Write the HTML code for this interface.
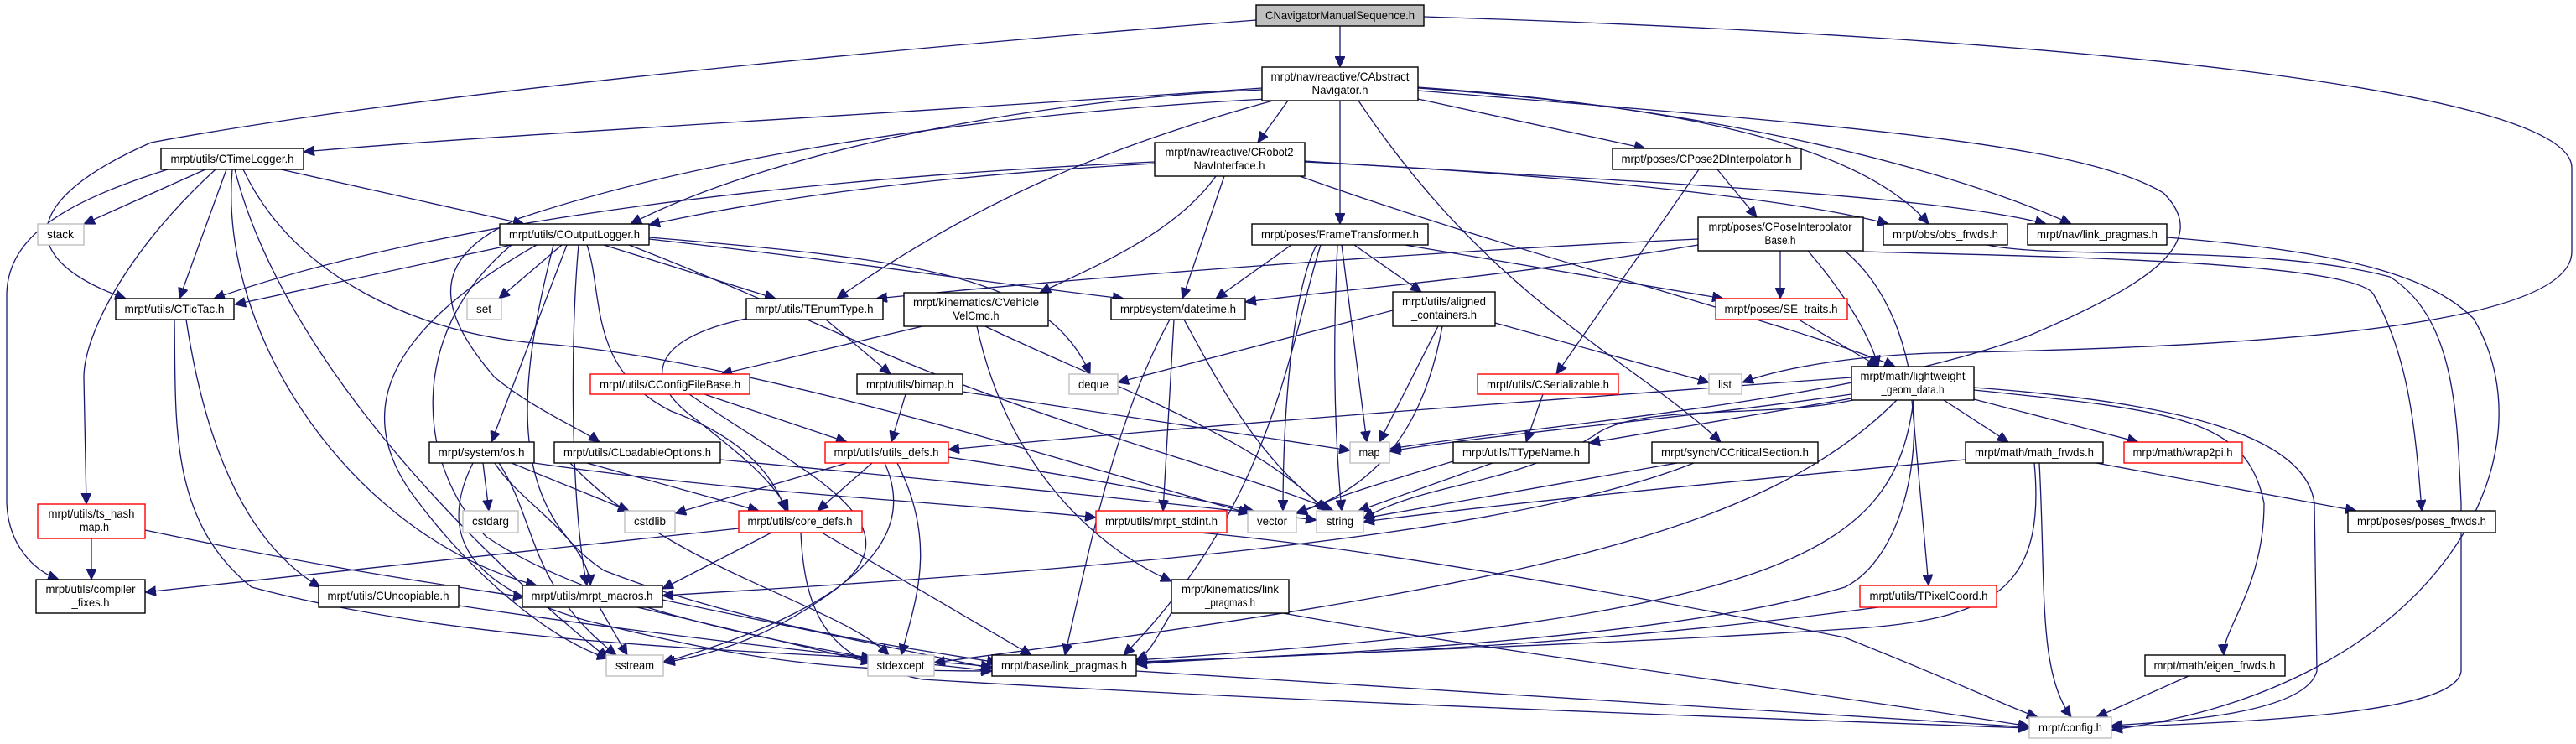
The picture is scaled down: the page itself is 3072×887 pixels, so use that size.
<!DOCTYPE html>
<html><head><meta charset="utf-8"><style>
html,body{margin:0;padding:0;background:#fff;}
svg{display:block;}
text{font-family:"Liberation Sans",sans-serif;font-size:14px;fill:#000;}
.e{fill:none;stroke:#191970;stroke-width:1.3;marker-end:url(#a);}
.b{fill:#fff;stroke:#000;stroke-width:1.4;}
.g{fill:#fff;stroke:#bfbfbf;stroke-width:1.4;}
.r{fill:#fff;stroke:#ff0000;stroke-width:1.4;}
</style></head><body>
<svg width="3072" height="887" viewBox="0 0 3072 887" xmlns="http://www.w3.org/2000/svg">
<defs><marker id="a" markerUnits="userSpaceOnUse" markerWidth="14" markerHeight="12" refX="13" refY="6" orient="auto"><path d="M0,0 L13,6 L0,12 Z" fill="#191970" stroke="#191970"/></marker></defs>
<g>
<path class="e" d="M1598,31 L1598,80"/>
<path class="e" d="M1498,24 C1100,55 500,110 180,170 C20,240 20,310 150,356"/>
<path class="e" d="M1698,20 C2500,45 3067,110 3067,200 L3067,300 C3067,400 2600,415 2304,421 C2200,425 2120,440 2078,456"/>
<path class="e" d="M1505,105 C1000,140 600,160 362,181"/>
<path class="e" d="M1505,107 C1200,120 900,190 752,267"/>
<path class="e" d="M1536,120 L1500,170"/>
<path class="e" d="M1598,120 L1598,267"/>
<path class="e" d="M1518,120 C1300,180 1150,250 998,356"/>
<path class="e" d="M1510,118 C1100,140 800,200 620,260 C500,310 530,380 590,450 C640,490 690,510 715,527"/>
<path class="e" d="M1620,120 C1780,360 1950,430 2052,527"/>
<path class="e" d="M1691,118 L1962,177"/>
<path class="e" d="M1691,105 C1900,120 2200,150 2300,267"/>
<path class="e" d="M1691,104 C2000,125 2300,190 2470,267"/>
<path class="e" d="M1691,108 C2200,150 2480,170 2580,230 C2640,290 2560,340 2420,400 C2200,480 1850,505 1658,535"/>
<path class="e" d="M245,202 L100,267"/>
<path class="e" d="M270,202 L214,356"/>
<path class="e" d="M335,202 L625,267"/>
<path class="e" d="M200,202 C80,240 10,280 8,350 L8,600 C10,650 40,680 70,691"/>
<path class="e" d="M257,202 C150,300 100,400 100,450 L103,601"/>
<path class="e" d="M280,202 C330,400 520,620 725,785"/>
<path class="e" d="M290,202 C350,330 500,400 650,410 C900,430 1300,560 1490,612"/>
<path class="e" d="M277,202 C260,400 420,640 640,698"/>
<path class="e" d="M1377,195 C1100,210 900,240 774,268"/>
<path class="e" d="M1377,193 C900,215 500,270 255,356"/>
<path class="e" d="M1460,210 L1410,356"/>
<path class="e" d="M1450,210 C1400,280 1300,320 1240,349"/>
<path class="e" d="M1556,193 C1900,210 2150,240 2252,267"/>
<path class="e" d="M1556,192 C1900,215 2300,230 2440,267"/>
<path class="e" d="M1550,210 C1800,300 2150,390 2260,437"/>
<path class="e" d="M2048,202 L2095,259"/>
<path class="e" d="M2026,202 L1856,446"/>
<path class="e" d="M610,292 L280,363"/>
<path class="e" d="M670,292 L595,356"/>
<path class="e" d="M720,292 L925,356"/>
<path class="e" d="M774,285 C1000,310 1200,340 1340,356"/>
<path class="e" d="M676,292 L586,527"/>
<path class="e" d="M774,283 C1100,310 1250,330 1300,446"/>
<path class="e" d="M700,292 C720,350 700,440 800,490 C880,520 920,560 937,609"/>
<path class="e" d="M690,292 C680,400 680,600 700,698"/>
<path class="e" d="M640,292 C450,400 420,500 500,600 C560,680 650,760 725,785"/>
<path class="e" d="M610,292 C480,400 500,560 580,640 C700,720 900,760 1040,785"/>
<path class="e" d="M660,292 C620,450 600,600 720,680 C900,750 1100,775 1190,790"/>
<path class="e" d="M750,292 C900,350 1000,400 1100,440 C1300,520 1500,570 1590,609"/>
<path class="e" d="M1540,292 L1450,356"/>
<path class="e" d="M1615,292 L1695,348"/>
<path class="e" d="M1600,292 L1630,527"/>
<path class="e" d="M1595,292 C1590,400 1590,500 1600,609"/>
<path class="e" d="M1675,292 L2055,356"/>
<path class="e" d="M1575,292 C1540,400 1520,600 1340,781"/>
<path class="e" d="M1570,292 C1540,350 1530,500 1530,609"/>
<path class="e" d="M2025,285 C1700,300 1300,330 1045,356"/>
<path class="e" d="M2025,292 C1800,330 1600,345 1485,360"/>
<path class="e" d="M2123,299 L2123,356"/>
<path class="e" d="M2156,299 C2200,350 2230,400 2240,437"/>
<path class="e" d="M2222,300 C2400,305 2800,310 2830,350 C2870,420 2880,500 2888,609"/>
<path class="e" d="M2200,299 C2320,400 2300,650 2200,700 C2000,760 1600,780 1355,790"/>
<path class="e" d="M2370,292 C2450,310 2700,290 2850,330 C2930,380 2930,500 2935,600 L2935,800 C2930,850 2700,860 2518,867"/>
<path class="e" d="M2584,283 C2800,300 2900,330 2950,380 C3050,550 2900,820 2518,870"/>
<path class="e" d="M222,381 C240,500 280,640 382,700"/>
<path class="e" d="M208,381 C210,500 200,620 300,700 C600,780 1000,775 1183,795"/>
<path class="e" d="M985,381 L1062,446"/>
<path class="e" d="M900,378 C780,400 760,450 830,500 C880,540 920,570 940,609"/>
<path class="e" d="M1100,389 L860,446"/>
<path class="e" d="M1175,389 C1300,450 1500,520 1580,609"/>
<path class="e" d="M1165,389 C1200,550 1300,650 1397,693"/>
<path class="e" d="M1400,381 L1387,609"/>
<path class="e" d="M1395,381 C1330,500 1300,650 1270,781"/>
<path class="e" d="M1412,381 C1450,450 1500,550 1585,609"/>
<path class="e" d="M1661,370 L1333,456"/>
<path class="e" d="M1783,385 L2038,456"/>
<path class="e" d="M1715,389 L1645,527"/>
<path class="e" d="M1720,389 C1700,500 1650,580 1545,612"/>
<path class="e" d="M2145,381 L2240,437"/>
<path class="e" d="M840,470 L1010,527"/>
<path class="e" d="M822,470 C950,560 1100,620 1000,700 C920,760 850,780 792,790"/>
<path class="e" d="M1080,470 L1063,527"/>
<path class="e" d="M1148,467 L1610,537"/>
<path class="e" d="M1840,470 L1820,527"/>
<path class="e" d="M2208,450 C1800,480 1400,510 1131,536"/>
<path class="e" d="M2208,470 C2000,500 1800,515 1657,538"/>
<path class="e" d="M2208,475 L1895,528"/>
<path class="e" d="M2354,476 L2550,527"/>
<path class="e" d="M2318,477 L2395,527"/>
<path class="e" d="M2280,477 L2300,698"/>
<path class="e" d="M2354,465 C2600,490 2680,500 2700,600 C2700,700 2650,750 2652,781"/>
<path class="e" d="M2354,462 C2600,480 2750,520 2760,600 L2763,800 C2750,850 2600,860 2518,865"/>
<path class="e" d="M2210,477 C2100,500 1950,480 1900,520 C1800,580 1700,575 1626,618"/>
<path class="e" d="M2262,477 C2100,640 1800,700 1114,790"/>
<path class="e" d="M2282,477 C2260,650 2150,735 1355,787"/>
<path class="e" d="M576,552 L583,609"/>
<path class="e" d="M610,552 L750,609"/>
<path class="e" d="M590,552 C620,600 700,640 704,698"/>
<path class="e" d="M564,552 C520,640 560,700 700,740 C900,790 1000,800 1183,800"/>
<path class="e" d="M637,552 C900,590 1150,600 1307,617"/>
<path class="e" d="M595,552 C640,620 630,700 735,781"/>
<path class="e" d="M700,552 L905,609"/>
<path class="e" d="M680,552 C800,680 1000,720 1060,781"/>
<path class="e" d="M859,548 C1200,580 1400,600 1570,620"/>
<path class="e" d="M1040,552 L975,609"/>
<path class="e" d="M1010,552 L805,612"/>
<path class="e" d="M1131,545 C1300,570 1400,590 1495,609"/>
<path class="e" d="M1070,552 C1120,650 1090,720 1075,781"/>
<path class="e" d="M1055,552 C1100,650 1000,730 790,790"/>
<path class="e" d="M1780,552 L1620,609"/>
<path class="e" d="M1733,550 C1650,575 1600,590 1546,612"/>
<path class="e" d="M2000,552 L1626,618"/>
<path class="e" d="M2020,552 C1800,640 1300,680 790,710"/>
<path class="e" d="M2344,548 C2000,580 1800,600 1626,622"/>
<path class="e" d="M2500,552 L2810,609"/>
<path class="e" d="M2432,552 C2440,700 2430,800 2470,855"/>
<path class="e" d="M2426,552 C2440,700 2380,740 2200,750 C1900,770 1500,780 1355,792"/>
<path class="e" d="M109,642 L109,691"/>
<path class="e" d="M173,632 C400,680 550,700 625,712"/>
<path class="e" d="M881,630 L173,706"/>
<path class="e" d="M920,635 L790,702"/>
<path class="e" d="M980,635 L1230,781"/>
<path class="e" d="M955,635 C960,750 1000,790 1100,810 C1600,840 2200,860 2420,868"/>
<path class="e" d="M1430,635 C1600,650 1900,700 2200,760 C2350,820 2400,845 2430,855"/>
<path class="e" d="M547,722 C800,760 1000,780 1183,800"/>
<path class="e" d="M715,724 L748,781"/>
<path class="e" d="M760,724 L1040,790"/>
<path class="e" d="M790,715 L1183,797"/>
<path class="e" d="M1530,731 C1800,780 2200,830 2420,866"/>
<path class="e" d="M1400,725 C1380,760 1370,780 1355,787"/>
<path class="e" d="M2240,724 C1900,770 1600,780 1355,789"/>
<path class="e" d="M1355,800 C1800,830 2200,850 2420,867"/>
<path class="e" d="M2610,806 L2500,855"/>
</g>
<g>
<rect x="1498" y="6" width="200" height="25" fill="#bfbfbf" stroke="#000" stroke-width="1.4"/>
<text x="1598" y="23" text-anchor="middle" textLength="178" lengthAdjust="spacingAndGlyphs">CNavigatorManualSequence.h</text>

<rect class="b" x="1505" y="80" width="186" height="40"/>
<text x="1598" y="96" text-anchor="middle" textLength="165" lengthAdjust="spacingAndGlyphs">mrpt/nav/reactive/CAbstract</text>
<text x="1598" y="112" text-anchor="middle" textLength="67" lengthAdjust="spacingAndGlyphs">Navigator.h</text>

<rect class="b" x="192" y="177" width="170" height="25"/>
<text x="277" y="194" text-anchor="middle" textLength="147" lengthAdjust="spacingAndGlyphs">mrpt/utils/CTimeLogger.h</text>

<rect class="b" x="1377" y="170" width="179" height="40"/>
<text x="1466" y="186" text-anchor="middle" textLength="153" lengthAdjust="spacingAndGlyphs">mrpt/nav/reactive/CRobot2</text>
<text x="1466" y="202" text-anchor="middle" textLength="85" lengthAdjust="spacingAndGlyphs">NavInterface.h</text>

<rect class="b" x="1923" y="177" width="225" height="25"/>
<text x="2035" y="194" text-anchor="middle" textLength="203" lengthAdjust="spacingAndGlyphs">mrpt/poses/CPose2DInterpolator.h</text>

<rect class="b" x="596" y="267" width="178" height="25"/>
<text x="685" y="284" text-anchor="middle" textLength="156" lengthAdjust="spacingAndGlyphs">mrpt/utils/COutputLogger.h</text>

<rect class="g" x="45" y="267" width="55" height="25"/>
<text x="72" y="284" text-anchor="middle" textLength="32" lengthAdjust="spacingAndGlyphs">stack</text>

<rect class="b" x="1493" y="267" width="210" height="25"/>
<text x="1598" y="284" text-anchor="middle" textLength="188" lengthAdjust="spacingAndGlyphs">mrpt/poses/FrameTransformer.h</text>

<rect class="b" x="2025" y="259" width="197" height="40"/>
<text x="2123" y="275" text-anchor="middle" textLength="171" lengthAdjust="spacingAndGlyphs">mrpt/poses/CPoseInterpolator</text>
<text x="2123" y="291" text-anchor="middle" textLength="37" lengthAdjust="spacingAndGlyphs">Base.h</text>

<rect class="b" x="2246" y="267" width="148" height="25"/>
<text x="2320" y="284" text-anchor="middle" textLength="126" lengthAdjust="spacingAndGlyphs">mrpt/obs/obs_frwds.h</text>

<rect class="b" x="2418" y="267" width="166" height="25"/>
<text x="2501" y="284" text-anchor="middle" textLength="144" lengthAdjust="spacingAndGlyphs">mrpt/nav/link_pragmas.h</text>

<rect class="b" x="138" y="356" width="141" height="25"/>
<text x="208" y="373" text-anchor="middle" textLength="119" lengthAdjust="spacingAndGlyphs">mrpt/utils/CTicTac.h</text>

<rect class="g" x="557" y="356" width="41" height="25"/>
<text x="577" y="373" text-anchor="middle" textLength="18" lengthAdjust="spacingAndGlyphs">set</text>

<rect class="b" x="890" y="356" width="163" height="25"/>
<text x="971" y="373" text-anchor="middle" textLength="141" lengthAdjust="spacingAndGlyphs">mrpt/utils/TEnumType.h</text>

<rect class="b" x="1078" y="349" width="172" height="40"/>
<text x="1164" y="365" text-anchor="middle" textLength="150" lengthAdjust="spacingAndGlyphs">mrpt/kinematics/CVehicle</text>
<text x="1164" y="381" text-anchor="middle" textLength="55" lengthAdjust="spacingAndGlyphs">VelCmd.h</text>

<rect class="b" x="1325" y="356" width="160" height="25"/>
<text x="1405" y="373" text-anchor="middle" textLength="138" lengthAdjust="spacingAndGlyphs">mrpt/system/datetime.h</text>

<rect class="b" x="1661" y="348" width="122" height="41"/>
<text x="1722" y="364" text-anchor="middle" textLength="100" lengthAdjust="spacingAndGlyphs">mrpt/utils/aligned</text>
<text x="1722" y="380" text-anchor="middle" textLength="78" lengthAdjust="spacingAndGlyphs">_containers.h</text>

<rect class="r" x="2046" y="356" width="157" height="25"/>
<text x="2124" y="373" text-anchor="middle" textLength="135" lengthAdjust="spacingAndGlyphs">mrpt/poses/SE_traits.h</text>

<rect class="r" x="704" y="446" width="190" height="24"/>
<text x="799" y="463" text-anchor="middle" textLength="168" lengthAdjust="spacingAndGlyphs">mrpt/utils/CConfigFileBase.h</text>

<rect class="b" x="1022" y="446" width="126" height="24"/>
<text x="1085" y="463" text-anchor="middle" textLength="104" lengthAdjust="spacingAndGlyphs">mrpt/utils/bimap.h</text>

<rect class="g" x="1275" y="446" width="58" height="24"/>
<text x="1304" y="463" text-anchor="middle" textLength="36" lengthAdjust="spacingAndGlyphs">deque</text>

<rect class="r" x="1762" y="446" width="168" height="24"/>
<text x="1846" y="463" text-anchor="middle" textLength="146" lengthAdjust="spacingAndGlyphs">mrpt/utils/CSerializable.h</text>

<rect class="g" x="2038" y="446" width="39" height="24"/>
<text x="2057" y="463" text-anchor="middle" textLength="16" lengthAdjust="spacingAndGlyphs">list</text>

<rect class="b" x="2208" y="437" width="146" height="40"/>
<text x="2281" y="453" text-anchor="middle" textLength="125" lengthAdjust="spacingAndGlyphs">mrpt/math/lightweight</text>
<text x="2281" y="469" text-anchor="middle" textLength="75" lengthAdjust="spacingAndGlyphs">_geom_data.h</text>

<rect class="b" x="512" y="527" width="125" height="25"/>
<text x="574" y="544" text-anchor="middle" textLength="103" lengthAdjust="spacingAndGlyphs">mrpt/system/os.h</text>

<rect class="b" x="661" y="527" width="198" height="25"/>
<text x="760" y="544" text-anchor="middle" textLength="176" lengthAdjust="spacingAndGlyphs">mrpt/utils/CLoadableOptions.h</text>

<rect class="r" x="984" y="527" width="147" height="25"/>
<text x="1057" y="544" text-anchor="middle" textLength="125" lengthAdjust="spacingAndGlyphs">mrpt/utils/utils_defs.h</text>

<rect class="g" x="1610" y="527" width="47" height="25"/>
<text x="1633" y="544" text-anchor="middle" textLength="25" lengthAdjust="spacingAndGlyphs">map</text>

<rect class="b" x="1733" y="527" width="162" height="25"/>
<text x="1814" y="544" text-anchor="middle" textLength="140" lengthAdjust="spacingAndGlyphs">mrpt/utils/TTypeName.h</text>

<rect class="b" x="1970" y="527" width="198" height="25"/>
<text x="2069" y="544" text-anchor="middle" textLength="176" lengthAdjust="spacingAndGlyphs">mrpt/synch/CCriticalSection.h</text>

<rect class="b" x="2344" y="527" width="164" height="25"/>
<text x="2426" y="544" text-anchor="middle" textLength="142" lengthAdjust="spacingAndGlyphs">mrpt/math/math_frwds.h</text>

<rect class="r" x="2533" y="527" width="141" height="25"/>
<text x="2603" y="544" text-anchor="middle" textLength="119" lengthAdjust="spacingAndGlyphs">mrpt/math/wrap2pi.h</text>

<rect class="r" x="45" y="601" width="128" height="41"/>
<text x="109" y="617" text-anchor="middle" textLength="103" lengthAdjust="spacingAndGlyphs">mrpt/utils/ts_hash</text>
<text x="109" y="633" text-anchor="middle" textLength="42" lengthAdjust="spacingAndGlyphs">_map.h</text>

<rect class="g" x="552" y="609" width="66" height="26"/>
<text x="585" y="626" text-anchor="middle" textLength="44" lengthAdjust="spacingAndGlyphs">cstdarg</text>

<rect class="g" x="745" y="609" width="60" height="26"/>
<text x="775" y="626" text-anchor="middle" textLength="38" lengthAdjust="spacingAndGlyphs">cstdlib</text>

<rect class="r" x="881" y="609" width="147" height="26"/>
<text x="954" y="626" text-anchor="middle" textLength="125" lengthAdjust="spacingAndGlyphs">mrpt/utils/core_defs.h</text>

<rect class="r" x="1307" y="609" width="156" height="26"/>
<text x="1385" y="626" text-anchor="middle" textLength="134" lengthAdjust="spacingAndGlyphs">mrpt/utils/mrpt_stdint.h</text>

<rect class="g" x="1488" y="609" width="58" height="26"/>
<text x="1517" y="626" text-anchor="middle" textLength="36" lengthAdjust="spacingAndGlyphs">vector</text>

<rect class="g" x="1570" y="609" width="56" height="26"/>
<text x="1598" y="626" text-anchor="middle" textLength="32" lengthAdjust="spacingAndGlyphs">string</text>

<rect class="b" x="2800" y="609" width="176" height="26"/>
<text x="2888" y="626" text-anchor="middle" textLength="154" lengthAdjust="spacingAndGlyphs">mrpt/poses/poses_frwds.h</text>

<rect class="b" x="43" y="691" width="130" height="40"/>
<text x="108" y="707" text-anchor="middle" textLength="107" lengthAdjust="spacingAndGlyphs">mrpt/utils/compiler</text>
<text x="108" y="723" text-anchor="middle" textLength="45" lengthAdjust="spacingAndGlyphs">_fixes.h</text>

<rect class="b" x="380" y="698" width="167" height="26"/>
<text x="463" y="715" text-anchor="middle" textLength="145" lengthAdjust="spacingAndGlyphs">mrpt/utils/CUncopiable.h</text>

<rect class="b" x="623" y="698" width="167" height="26"/>
<text x="706" y="715" text-anchor="middle" textLength="145" lengthAdjust="spacingAndGlyphs">mrpt/utils/mrpt_macros.h</text>

<rect class="b" x="1397" y="691" width="140" height="40"/>
<text x="1467" y="707" text-anchor="middle" textLength="116" lengthAdjust="spacingAndGlyphs">mrpt/kinematics/link</text>
<text x="1467" y="723" text-anchor="middle" textLength="60" lengthAdjust="spacingAndGlyphs">_pragmas.h</text>

<rect class="r" x="2218" y="698" width="163" height="26"/>
<text x="2300" y="715" text-anchor="middle" textLength="141" lengthAdjust="spacingAndGlyphs">mrpt/utils/TPixelCoord.h</text>

<rect class="g" x="723" y="781" width="68" height="25"/>
<text x="757" y="798" text-anchor="middle" textLength="46" lengthAdjust="spacingAndGlyphs">sstream</text>

<rect class="g" x="1035" y="781" width="79" height="25"/>
<text x="1074" y="798" text-anchor="middle" textLength="57" lengthAdjust="spacingAndGlyphs">stdexcept</text>

<rect class="b" x="1183" y="781" width="172" height="25"/>
<text x="1269" y="798" text-anchor="middle" textLength="150" lengthAdjust="spacingAndGlyphs">mrpt/base/link_pragmas.h</text>

<rect class="b" x="2558" y="781" width="167" height="25"/>
<text x="2641" y="798" text-anchor="middle" textLength="145" lengthAdjust="spacingAndGlyphs">mrpt/math/eigen_frwds.h</text>

<rect class="g" x="2420" y="855" width="98" height="25"/>
<text x="2469" y="872" text-anchor="middle" textLength="76" lengthAdjust="spacingAndGlyphs">mrpt/config.h</text>
</g>
</svg>
</body></html>
